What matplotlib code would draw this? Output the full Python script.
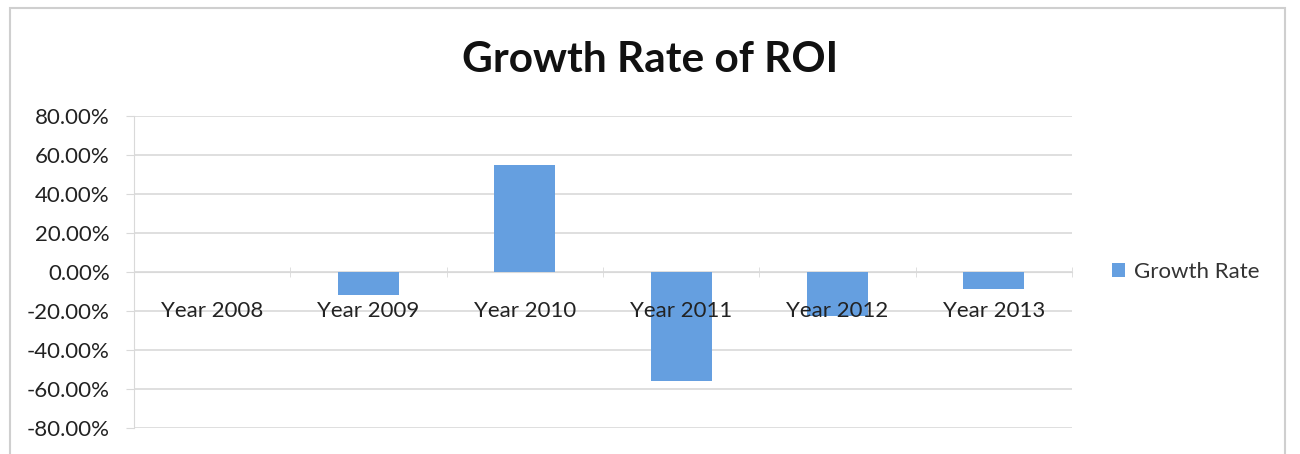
import matplotlib
matplotlib.use("Agg")
import matplotlib.pyplot as plt
from matplotlib.patches import Rectangle
from matplotlib.ticker import FuncFormatter, FixedLocator
from matplotlib.transforms import offset_copy
import numpy as np

categories = ["Year 2008", "Year 2009", "Year 2010", "Year 2011", "Year 2012", "Year 2013"]
growth_rate = [0.0, -12.0, 55.0, -56.0, -22.5, -8.7]
y_ticks = [-80, -60, -40, -20, 0, 20, 40, 60, 80]

plt.rcParams['font.family'] = ['Lato', 'DejaVu Sans']

bar_color = '#659FE0'
grid_color = '#D9D9D9'
text_color = '#222222'
label_size = 16

fig = plt.figure(figsize=(13, 4.54), dpi=100)
fig.patch.set_facecolor('white')

# chart frame
fig.add_artist(Rectangle((10 / 1300, -0.05), 1275 / 1300, 1 - 8 / 454 + 0.05,
                         transform=fig.transFigure, fill=False,
                         edgecolor='#CFCFCF', linewidth=1.5))

ax = fig.add_axes([134 / 1300, 1 - 428 / 454, (1072 - 134) / 1300, (428 - 116) / 454])

x = np.arange(len(categories))
ax.bar(x, growth_rate, width=0.39, color=bar_color, zorder=3, label="Growth Rate")

ax.set_xlim(-0.5, len(categories) - 0.5)
ax.set_ylim(-80, 80)
ax.set_yticks(y_ticks)
ax.yaxis.set_major_formatter(FuncFormatter(lambda v, p: f"{v:.2f}%"))
ax.yaxis.grid(True, color=grid_color, linewidth=1.2, zorder=0)
ax.set_axisbelow(True)
ax.tick_params(axis='y', length=6, color=grid_color, labelsize=label_size,
               labelcolor=text_color, pad=11.5)

# category axis crossing at zero
for s in ['top', 'right']:
    ax.spines[s].set_visible(False)
ax.spines['left'].set_color(grid_color)
ax.spines['bottom'].set_position(('data', 0))
ax.spines['bottom'].set_color(grid_color)
ax.set_xticks(x)
ax.set_xticklabels([])
ax.tick_params(axis='x', which='major', length=0)
ax.xaxis.set_minor_locator(FixedLocator(np.arange(0.5, len(categories), 1.0)))
ax.tick_params(axis='x', which='minor', length=7, direction='inout',
               color=grid_color)

# category labels sit just under the zero line, drawn above the bars
trans = offset_copy(ax.transData, fig=fig, x=0, y=-39, units='dots')
for xi, name in zip(x, categories):
    ax.text(xi, 0, name, transform=trans, ha='center', va='center',
            fontsize=label_size, color=text_color, zorder=6)

fig.text(0.5, 1 - 60 / 454, "Growth Rate of ROI", ha='center', va='center',
         fontsize=30.5, fontweight='bold', color='#111111')

leg = fig.legend(loc='center left', bbox_to_anchor=(1092 / 1300, 1 - 272 / 454),
                 frameon=False, fontsize=label_size, handlelength=0.6, handleheight=0.6,
                 handletextpad=0.4, labelcolor='#333333')

fig.savefig("out.png", dpi=100, facecolor='white')
